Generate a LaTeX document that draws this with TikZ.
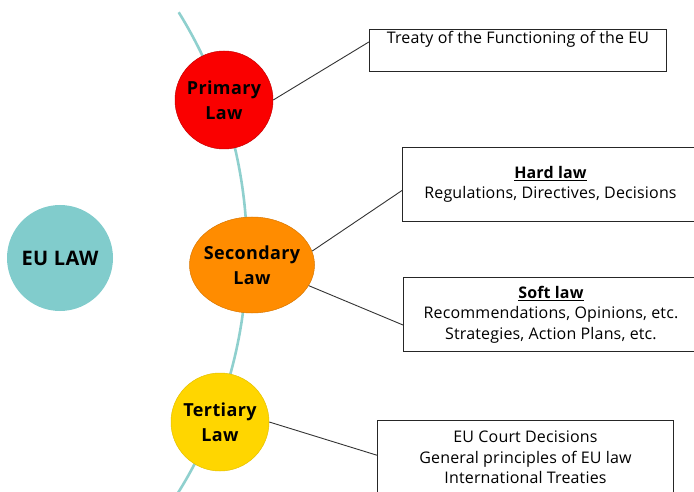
\documentclass[tikz,border=0pt]{standalone}
\usepackage{fontspec}
\setmainfont{Open Sans}[LetterSpace=2]
\newfontfamily\boxfont{Open Sans}[LetterSpace=1]
\usetikzlibrary{shapes.geometric,calc}
\definecolor{StemTeal}{RGB}{143,208,206}
\definecolor{EuTeal}{RGB}{129,204,204}
\definecolor{LawRed}{RGB}{250,0,0}
\definecolor{LawOrange}{RGB}{255,140,0}
\definecolor{LawYellow}{RGB}{255,214,0}

\begin{document}
\begin{tikzpicture}[x=1pt,y=1pt,yscale=-1,xscale=1,
		lawcircle/.style={circle, minimum size=98pt, inner sep=0pt, align=center, font=\bfseries\fontsize{18}{25}\selectfont},
		lawbox/.style={draw=black!85, line width=1pt, inner sep=3pt, align=center, anchor=north west, minimum width=296pt, font=\boxfont\fontsize{16}{20.5}\selectfont},
		link/.style={draw=black!80, line width=0.9pt}]
		\useasboundingbox (0,0) rectangle (694,492);

		% The teal stem behind the three circles
		\draw[StemTeal, line width=2.6pt] (-208,252) ++(-31.8:455) arc[start angle=-31.8, end angle=34, radius=455];

		% The circles
		\node[lawcircle, fill=EuTeal, minimum size=106pt, font=\bfseries\fontsize{20}{25}\selectfont] (eulaw) at (60,258) {EU LAW};
		\node[lawcircle, fill=LawRed, draw=LawRed!80!black, line width=0.5pt] (primary) at (224,100) {Primary\\Law};
		\node[lawcircle, ellipse, fill=LawOrange, draw=LawOrange!85!black, line width=0.5pt, inner xsep=-14pt, inner ysep=-6pt, minimum width=125pt, minimum height=96pt] (secondary) at (252,265) {Secondary\\Law};
		\node[lawcircle, fill=LawYellow, draw=LawYellow!90!black, line width=0.5pt] (tertiary) at (220,422) {Tertiary\\Law};

		% The boxes
		\node[lawbox, minimum width=297pt, text height=11.5pt, text depth=24.5pt] (treaty) at (369,29) {Treaty of the Functioning of the EU};
		\node[lawbox, minimum height=74pt] (hard) at (402,147) {\underline{\textbf{Hard law}}\\Regulations, Directives, Decisions};
		\node[lawbox, minimum height=74pt, minimum width=295pt] (soft) at (403,277) {\underline{\textbf{Soft law}}\\Recommendations, Opinions, etc.\\Strategies, Action Plans, etc.};
		\node[lawbox, minimum height=74pt] (court) at (377,420) {EU Court Decisions\\General principles of EU law\\International Treaties};

		% The connectors
		\draw[link] (primary.east) -- ($(treaty.north west)!0.3!(treaty.south west)$);
		\draw[link] (secondary.13) -- ($(hard.north west)!0.58!(hard.south west)$);
		\draw[link] (secondary.-20) -- ($(soft.north west)!0.64!(soft.south west)$);
		\draw[link] (tertiary.east) -- ($(court.north west)!0.47!(court.south west)$);
	\end{tikzpicture}
\end{document}
